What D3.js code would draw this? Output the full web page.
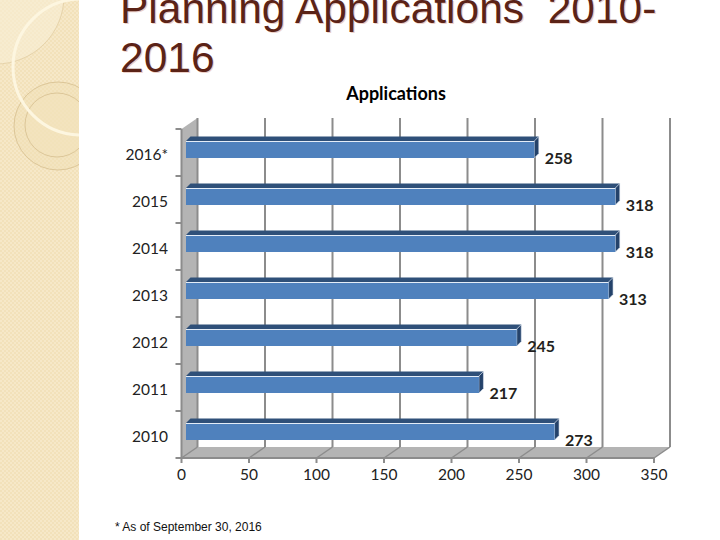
<!DOCTYPE html>
<html>
<head>
<meta charset="utf-8">
<script src="https://d3js.org/d3.v7.min.js"></script>
<style>
  body { margin: 0; background: #fff; }
  svg { display: block; }
</style>
</head>
<body>
<div id="chart"></div>
<script>
// data
const categories = ['2016*', '2015', '2014', '2013', '2012', '2011', '2010'];
const applications = [258, 318, 318, 313, 245, 217, 273];
const xTicks = [0, 50, 100, 150, 200, 250, 300, 350];

const W = 720, H = 540;
const svg = d3.select('#chart').append('svg')
    .attr('width', W)
    .attr('height', H);

// -----------------------------------------------------------------
// sidebar decoration
const defs = svg.append('defs');
const pat = defs.append('pattern')
    .attr('id', 'checks')
    .attr('width', 4).attr('height', 4)
    .attr('patternUnits', 'userSpaceOnUse');
pat.append('rect').attr('width', 4).attr('height', 4).attr('fill', '#f2e1ba');
pat.append('rect').attr('width', 2).attr('height', 2).attr('fill', '#f6e8c8');
pat.append('rect').attr('x', 2).attr('y', 2).attr('width', 2).attr('height', 2).attr('fill', '#f6e8c8');
defs.append('clipPath').attr('id', 'side')
    .append('rect').attr('width', 79).attr('height', H);

const side = svg.append('g').attr('clip-path', 'url(#side)');
side.append('rect').attr('width', 79).attr('height', H).attr('fill', 'url(#checks)');
side.append('circle').attr('cx', -4).attr('cy', -4).attr('r', 68)
    .attr('fill', '#f8eed6').attr('fill-opacity', 0.6)
    .attr('stroke', '#e6d3aa').attr('stroke-width', 1);
side.append('circle').attr('cx', 58).attr('cy', 126).attr('r', 44)
    .attr('fill', '#f0dfb4').attr('fill-opacity', 0.4)
    .attr('stroke', '#dcc698').attr('stroke-width', 1);
side.append('circle').attr('cx', 57).attr('cy', 125).attr('r', 32)
    .attr('fill', '#f3e3bd').attr('fill-opacity', 0.6)
    .attr('stroke', '#dcc698').attr('stroke-width', 1);
side.append('circle').attr('cx', 81).attr('cy', 67).attr('r', 68)
    .attr('fill', 'none')
    .attr('stroke', '#fdf6e0').attr('stroke-width', 3);

// -----------------------------------------------------------------
// slide title
const titleLines = ['Planning Applications  2010-', '2016'];
const title = svg.append('g')
    .attr('font-family', 'Liberation Sans, Arial, sans-serif')
    .attr('font-size', 42.5);
[[1.2, '#ecd0c8'], [0, '#5b2317']].forEach(([off, col]) => {
    title.append('g').selectAll('text')
        .data(titleLines)
        .enter()
        .append('text')
        .attr('x', 120 + off)
        .attr('y', (d, i) => 23 + i * 49 + off)
        .attr('fill', col)
        .style('white-space', 'pre')
        .text(d => d);
});

// footnote
svg.append('text')
    .attr('x', 115).attr('y', 531)
    .attr('font-family', 'Liberation Sans, Arial, sans-serif')
    .attr('font-size', 12)
    .attr('fill', '#111')
    .text('* As of September 30, 2016');

// -----------------------------------------------------------------
// chart
const DX = 16, DY = -11;          // depth of the walls
const BX = 4.5, BY = -4.5;        // depth of the bars
const yTop = 129, yBottom = 458;

const x = d3.scaleLinear().domain([0, 350]).range([181.5, 654]);
const y = d3.scaleBand().domain(categories).range([yTop, yBottom]);

const font = 'Lato, Calibri, sans-serif';

svg.append('text')
    .attr('x', 396).attr('y', 93)
    .attr('text-anchor', 'middle')
    .attr('dominant-baseline', 'central')
    .attr('font-family', font)
    .attr('font-weight', 'bold')
    .attr('font-size', 18)
    .text('Applications');

const wallCol = '#b4b4b4';
const lineCol = '#8c8c8c';

// left wall
svg.append('polygon')
    .attr('points', [[x(0), yTop], [x(0) + DX, yTop + DY], [x(0) + DX, yBottom + DY], [x(0), yBottom]].join(' '))
    .attr('fill', wallCol);

// floor
svg.append('polygon')
    .attr('points', [[x(0), yBottom], [x(350), yBottom], [x(350) + DX, yBottom + DY], [x(0) + DX, yBottom + DY]].join(' '))
    .attr('fill', wallCol);

// back wall gridlines
svg.append('g').selectAll('line')
    .data(xTicks)
    .enter()
    .append('line')
    .attr('x1', d => x(d) + DX).attr('x2', d => x(d) + DX)
    .attr('y1', yTop + DY).attr('y2', yBottom + DY)
    .attr('stroke', lineCol)
    .attr('stroke-width', 2);

// floor diagonals
svg.append('g').selectAll('line')
    .data(xTicks)
    .enter()
    .append('line')
    .attr('x1', d => x(d)).attr('x2', d => x(d) + DX)
    .attr('y1', yBottom).attr('y2', yBottom + DY)
    .attr('stroke', lineCol)
    .attr('stroke-width', 1.5);

// axis lines
svg.append('line')
    .attr('x1', x(0)).attr('x2', x(0))
    .attr('y1', yTop).attr('y2', yBottom)
    .attr('stroke', lineCol).attr('stroke-width', 2);
svg.append('line')
    .attr('x1', x(0) - 1).attr('x2', x(350))
    .attr('y1', yBottom).attr('y2', yBottom)
    .attr('stroke', lineCol).attr('stroke-width', 2);

// y ticks at band edges
const edges = categories.map(c => y(c)).concat([yBottom]);
svg.append('g').selectAll('line')
    .data(edges)
    .enter()
    .append('line')
    .attr('x1', x(0) - 6).attr('x2', x(0))
    .attr('y1', d => d).attr('y2', d => d)
    .attr('stroke', lineCol).attr('stroke-width', 2);

// x ticks
svg.append('g').selectAll('line')
    .data(xTicks)
    .enter()
    .append('line')
    .attr('x1', d => x(d)).attr('x2', d => x(d))
    .attr('y1', yBottom).attr('y2', yBottom + 5)
    .attr('stroke', lineCol).attr('stroke-width', 2);

// x tick labels
svg.append('g').selectAll('text')
    .data(xTicks)
    .enter()
    .append('text')
    .attr('x', d => x(d))
    .attr('y', 474)
    .attr('text-anchor', 'middle')
    .attr('dominant-baseline', 'central')
    .attr('font-family', font)
    .attr('font-size', 15.5)
    .attr('fill', '#222')
    .text(d => d);

// category labels
svg.append('g').selectAll('text')
    .data(categories)
    .enter()
    .append('text')
    .attr('x', 168)
    .attr('y', d => y(d) + y.bandwidth() / 2 + 1)
    .attr('text-anchor', 'end')
    .attr('dominant-baseline', 'central')
    .attr('font-family', font)
    .attr('font-size', 15.5)
    .attr('fill', '#222')
    .text(d => d);

// bars
const data = categories.map((c, i) => ({ cat: c, value: applications[i] }));
const bars = svg.append('g').selectAll('g')
    .data(data)
    .enter()
    .append('g');

const fx0 = x(0) + BX;
const yt = d => y(d.cat) + y.bandwidth() / 2 - 11.5;
const yb = d => y(d.cat) + y.bandwidth() / 2 + 5.5;
const fx1 = d => x(d.value) + BX;

// top face
bars.append('polygon')
    .attr('points', d => [[fx0, yt(d)], [fx1(d), yt(d)], [fx1(d) + BX, yt(d) + BY], [fx0 + BX, yt(d) + BY]].join(' '))
    .attr('fill', '#2f5079');
// side face
bars.append('polygon')
    .attr('points', d => [[fx1(d), yt(d)], [fx1(d) + BX, yt(d) + BY], [fx1(d) + BX, yb(d) + BY], [fx1(d), yb(d)]].join(' '))
    .attr('fill', '#24426a')
    .attr('stroke', '#dfe8f3').attr('stroke-width', 0.6);
// front face
bars.append('rect')
    .attr('x', fx0)
    .attr('y', yt)
    .attr('width', d => fx1(d) - fx0)
    .attr('height', d => yb(d) - yt(d))
    .attr('fill', '#4f81bd');
bars.append('line')
    .attr('x1', fx0).attr('x2', fx1)
    .attr('y1', d => yt(d) + 0.5).attr('y2', d => yt(d) + 0.5)
    .attr('stroke', '#e4edf8').attr('stroke-width', 1);

// value labels
bars.append('text')
    .attr('x', d => fx1(d) + 10.5)
    .attr('y', d => y(d.cat) + y.bandwidth() / 2 + 5)
    .attr('dominant-baseline', 'central')
    .attr('font-family', font)
    .attr('font-weight', 'bold')
    .attr('font-size', 16)
    .attr('fill', '#231f20')
    .text(d => d.value);
</script>
</body>
</html>
